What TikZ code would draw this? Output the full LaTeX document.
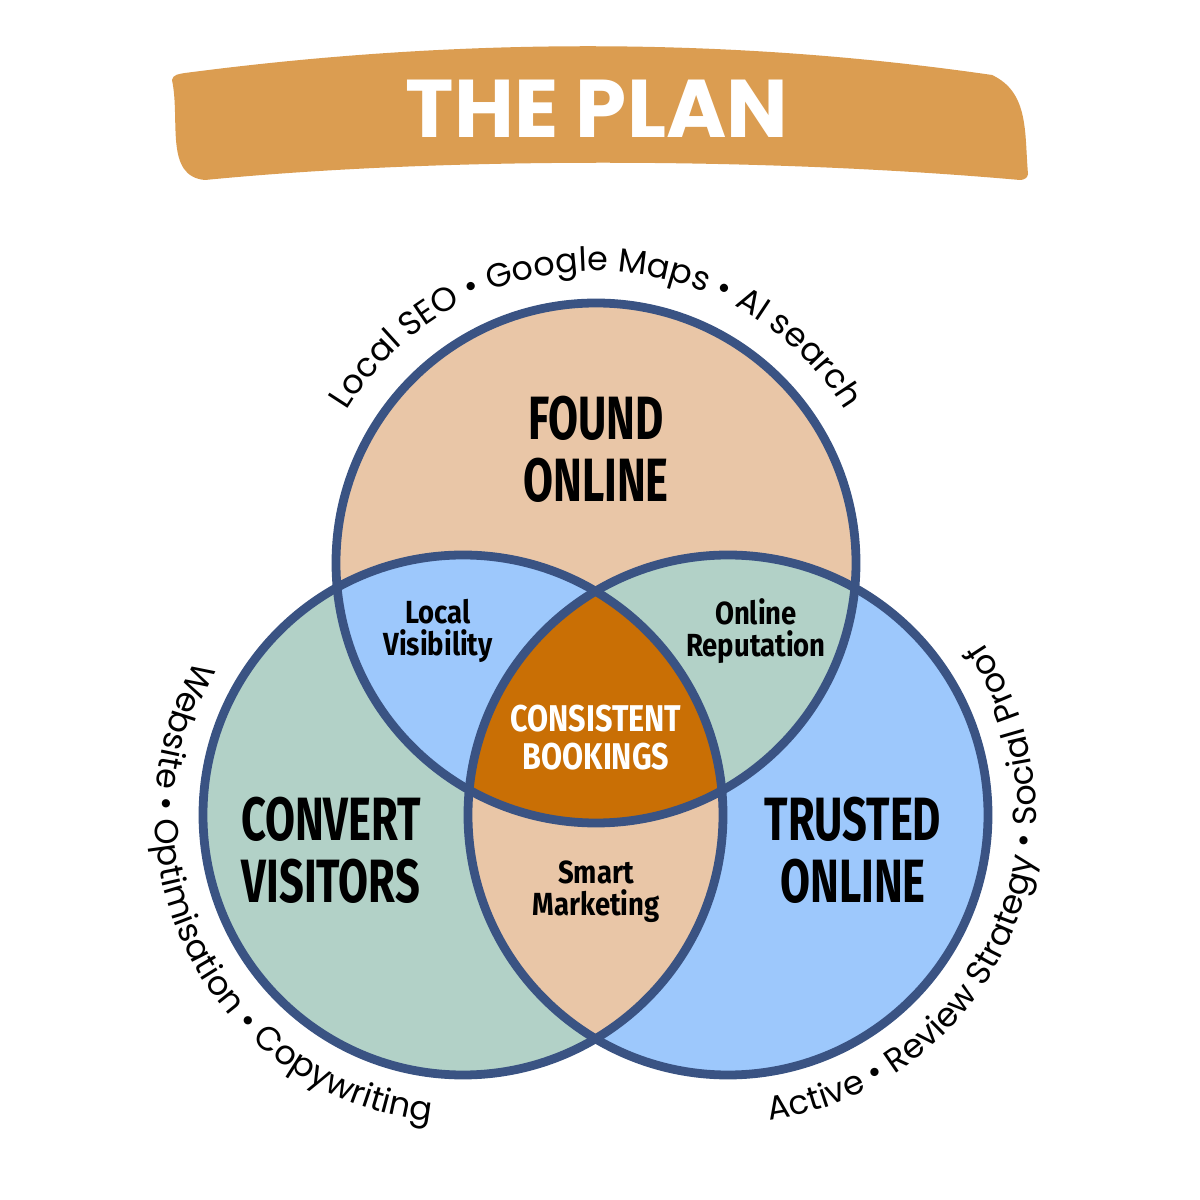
\documentclass[tikz,border=0pt]{standalone}
\usepackage{fontspec}
\setmainfont{Poppins}
\newfontfamily\arcfam{Poppins}
\newfontfamily\condfam[FakeStretch=0.71]{Fira Sans}
\newfontfamily\narrowfam[FakeStretch=0.86]{Fira Sans}
\newfontfamily\midfam[FakeStretch=0.82]{Fira Sans}
\usetikzlibrary{calc,decorations.text}
\definecolor{peachx}{HTML}{E9C6A7}
\definecolor{sagex}{HTML}{B2D1C7}
\definecolor{bluex}{HTML}{9DC8FC}
\definecolor{orangex}{HTML}{C96F05}
\definecolor{navyx}{HTML}{3A5383}
\definecolor{bannerx}{HTML}{DB9D51}
\newcommand{\arcfont}{\arcfam\fontsize{9.5}{11}\selectfont}
\tikzset{
  ring/.style={draw=navyx,line width=2.5pt},
  biglabel/.style={align=center,inner sep=0pt,font=\condfam\bfseries\fontsize{17.4}{17.6}\selectfont},
  smalllabel/.style={align=center,inner sep=0pt,font=\narrowfam\bfseries\fontsize{9.1}{9.1}\selectfont},
  arctext/.style={decorate,decoration={text along path,text align=center,text={|\arcfont|#1}}}
}

\begin{document}
\begin{tikzpicture}
\def\R{2.60}
\useasboundingbox (0,0) rectangle (12,12);
\fill[white] (0,0) rectangle (12,12);
\coordinate (T) at (5.96,6.37); \coordinate (L) at (4.63,3.85); \coordinate (R) at (7.28,3.85);
% banner
\fill[bannerx] (1.72,11.20) to[out=80,in=190] (1.85,11.27) .. controls (4.6,11.63) and (7.3,11.63) .. (9.92,11.25)
  to[out=-25,in=95] (10.28,10.26) to[out=-95,in=0] (10.20,10.20) .. controls (7.6,10.43) and (4.4,10.43) .. (2.05,10.20)
  to[out=175,in=-78] cycle;
\node[white,inner sep=0pt,font=\bfseries\fontsize{23.3}{28}\selectfont] (title) at (5.97,10.915) {THE PLAN};
% circles
\fill[peachx] (T) circle (\R);
\fill[sagex] (L) circle (\R);
\fill[bluex] (R) circle (\R);
\begin{scope} \clip (T) circle (\R); \fill[bluex] (L) circle (\R); \fill[sagex] (R) circle (\R); \end{scope}
\begin{scope} \clip (L) circle (\R); \fill[peachx] (R) circle (\R); \end{scope}
\begin{scope} \clip (T) circle (\R); \clip (L) circle (\R); \fill[orangex] (R) circle (\R); \end{scope}
\draw[ring] (T) circle (\R); \draw[ring] (L) circle (\R); \draw[ring] (R) circle (\R);
% labels
\node[biglabel] (found) at (5.96,7.51) {FOUND\\ONLINE};
\node[biglabel] (convert) at (3.31,3.50) {CONVERT\\VISITORS};
\node[biglabel] (trusted) at (8.53,3.495) {TRUSTED\\ONLINE};
\node[smalllabel] (visibility) at (4.38,5.69) {Local\\Visibility};
\node[smalllabel] (reputation) at (7.56,5.69) {Online\\Reputation};
\node[smalllabel] (marketing) at (5.96,3.085) {Smart\\Marketing};
\node[smalllabel,white,font=\midfam\bfseries\fontsize{10.6}{10.8}\selectfont] (bookings) at (5.96,4.62) {CONSISTENT\\BOOKINGS};
% curved texts
\path[arctext={Local SEO • Google Maps • AI search}] ($(T)+(175:2.92)$) arc[start angle=175,end angle=5,radius=2.92];
\path[arctext={Website • Optimisation • Copywriting}] ($(L)+(117:3.08)$) arc[start angle=117,end angle=297,radius=3.08];
\path[arctext={Active • Review Strategy • Social Proof}] ($(R)+(246:3.08)$) arc[start angle=246,end angle=426,radius=3.08];
\end{tikzpicture}
\end{document}
